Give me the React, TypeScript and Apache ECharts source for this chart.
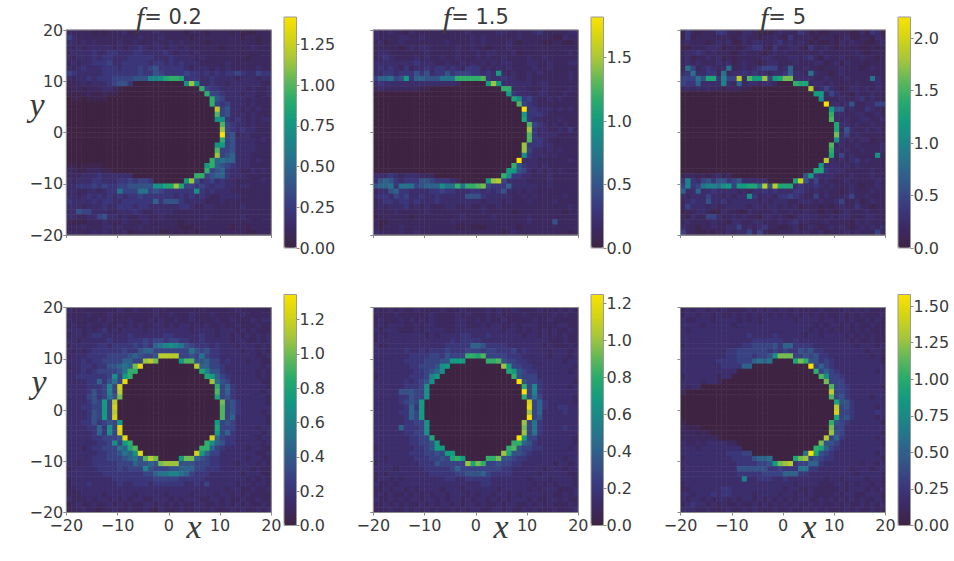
import React, { useEffect, useRef } from "react";
import * as echarts from "echarts";

// Each row is one row of the 40 x 40 density map, top row first; each character is a base-36 step on levelFractions.
const panelTopA = [
"3222212122 2312222322 2221222122 2212111222",
"5322222222 2222322232 2222122222 2222122122",
"3323232222 3223222322 3232222122 2222222122",
"3232333332 3233432332 3323222222 1222223222",
"2333343344 3334433334 3233232222 2222222222",
"3233343443 3344444333 4333323222 2222212222",
"2323344453 3444443443 4343332222 2322222222",
"3234333444 3444545644 4443233323 2322222322",
"5433333444 4444544654 4445443434 3445433544",
"3233434445 55566699ac ddc4443343 3332333233",
"2223233345 6640000000 000aga3343 3233333322",
"1221222332 1000000000 000000d544 3333323223",
"1111211211 0000000000 0000000d55 4333233223",
"0110111100 0000000000 00000000d6 5333323222",
"0000000000 0000000000 00000000d5 4533323222",
"0000000000 0000000000 000000000h 5633232322",
"0000000000 0000000000 000000000e 5633323222",
"0000000000 0000000000 000000000a a434323233",
"0000000000 0000000000 0000000000 e543323222",
"0000000000 0000000000 0000000000 g543433222",
"0000000000 0000000000 0000000000 k562332222",
"0000000000 0000000000 0000000000 d563333232",
"0000000000 0000000000 000000000a b563333222",
"0000000000 0000000000 000000000e 5563333222",
"0000000000 0000000000 000000000g 5673332222",
"0000000000 0000000000 00000000d7 8773332322",
"1101111000 0000000000 0000000bd7 6543332222",
"2211222110 0000000000 0000000d56 7433223232",
"2223334333 3330000000 00000dd567 7433322222",
"3233344333 4454554000 000bg63453 4332222232",
"3344454544 5566666aac cgc5545434 4332332222",
"3322332344 8555885654 44444a4343 3322222222",
"3323434343 4344544444 4343434322 3333222222",
"4333343443 3444444746 6643333222 3222222222",
"3332333433 4443443333 3344322332 2222322222",
"3365533322 3334322333 3222222222 2222222222",
"3322335633 2322332232 2222222322 2222322222",
"2111222322 2322232222 2212222222 2222222222",
"2223222332 3222322222 2211122222 2212212222",
"2222232322 2312222211 2121212222 2222211222",
];
const panelTopB = [
"3223221322 2222222232 2222332232 2342222233",
"3222233223 2222222223 2322222232 2222211322",
"2312232222 2222322223 2322223212 2221122112",
"2222212323 3222223223 2212223222 2222222222",
"2332222222 3222223222 3233222312 2222222232",
"2343222232 3223223222 3232232222 3223222222",
"3333333343 3322322323 2323233222 3322322233",
"3434324233 4344343244 4232323222 2322322222",
"3344344464 6344645554 4343b32322 3232222232",
"577856b477 666888dddd de43343322 3222222232",
"3433333333 3333332000 00bgb33333 3233222222",
"2322222221 1000000000 00000dd333 2223222232",
"0000000000 0000000000 000000b433 3233222322",
"0000000000 0000000000 0000000ca4 5322323222",
"0000000000 0000000000 00000000e5 4322222222",
"0000000000 0000000000 000000000k 4433323232",
"0000000000 0000000000 000000000b 4443222222",
"0000000000 0000000000 000000000c 4332223222",
"0000000000 0000000000 0000000000 e543232322",
"0000000000 0000000000 0000000000 g433223242",
"0000000000 0000000000 0000000000 e433332222",
"0000000000 0000000000 0000000000 e443222222",
"0000000000 0000000000 000000000g 4443322222",
"0000000000 0000000000 000000000g 5332323222",
"0000000000 0000000000 000000000a 4333232222",
"0000000000 0000000000 00000000k3 3322222232",
"0000000000 0000000000 0000000d64 3323222222",
"0000000000 0000000000 000000bb65 3232323222",
"3334323332 2200000000 00000da443 3222322222",
"3676434446 6544432000 00bgh53333 2222322222",
"6778488856 777a88d8dd ef54447333 3322322222",
"2336744333 3445443334 4343463232 3222222222",
"3443545334 3343333366 6433333223 2322222322",
"2344344343 3343333333 3233323222 3222232222",
"2323334232 3222332232 2322322222 2222222232",
"2222322222 3222222222 2322222122 2222222122",
"1222222122 2222222322 2223222222 3222222222",
"2112222222 2222232222 2222222222 3222262222",
"2122232222 2222221121 1122222212 2222222222",
"3222232232 2222222222 2222212322 2222222212",
];
const panelTopC = [
"1421222442 2133211123 2224312112 2221131431",
"1412222222 1232212232 1422221222 1231122132",
"2322212323 1132332234 2323212112 1323221123",
"1122233312 2123442142 2332142232 1222211212",
"2334323222 1232221232 3222222322 2222321222",
"2312232312 1222223322 2332342132 2322232212",
"2323222323 1232212332 2232223312 3132221222",
"2852343238 2232345552 3722322122 2322212322",
"3483344282 3343433233 4733283221 2322222222",
"55586cc495 5h3ebbg5bc ff33332232 2232222832",
"5447333393 2723323320 00dcc23323 2222322232",
"2323232212 2211000000 00000h2353 2123323232",
"0000000000 0000000000 000000bb25 3221322322",
"0000000000 0000000000 0000000a22 2322342322",
"0000000000 0000000000 00000000k3 3236223355",
"0000000000 0000000000 000000000b 6623224322",
"0000000000 0000000000 000000000d 3322332232",
"0000000000 0000000000 000000000e 3232233223",
"0000000000 0000000000 0000000000 c332322322",
"0000000000 0000000000 0000000000 c263223232",
"0000000000 0000000000 0000000000 f352322222",
"0000000000 0000000000 0000000000 a323233122",
"0000000000 0000000000 000000000e 2322322223",
"0000000000 0000000000 000000000d 3232232223",
"0000000000 0000000000 000000000c 25232222a2",
"0000000000 0000000000 00000000h3 2323423222",
"0000000000 0000000000 0000000b33 3232322222",
"0000000000 0000000000 000000cc43 3322222322",
"1221212312 0000000000 00006b4333 2223222322",
"4943564664 5633333000 00ci635232 2232222232",
"59458998ab 5bbcc8h6hc cc34334323 2223212232",
"7337334333 3232334343 3344323232 2123222322",
"3233353323 233a423324 4543225232 2235223222",
"2343363342 3333323233 3223332322 3522312322",
"2533323223 3332332332 3231222121 2322422122",
"1223321132 2113222232 2322322122 1232223222",
"2132255322 3232213323 2123333223 2332223322",
"2322223221 3322332223 2342322232 2221323222",
"3221223223 3523234221 1231232123 2321232323",
"5221121223 2335252112 2232322312 2232322252",
];
const panelBottomA = [
"3222222222 3223222322 2222222222 2223222222",
"2222322232 2222222322 3222322232 2222322222",
"3222223232 2232223232 2322322223 2232223233",
"2322322322 3232322332 3233232322 3223222322",
"3332323423 2333323333 3333233332 3332323222",
"2332344333 3343333334 4333334332 3323232323",
"3323333343 3344454554 5544334333 3323322323",
"2333334434 4445454789 a986544434 3332333232",
"3232344444 4544677555 5555865644 3333233232",
"2333444455 55676556hh hh55658544 3333333223",
"3334344555 57755ghf00 00bee66755 3433323322",
"2334434466 787fj00000 00000h7755 4333333323",
"3334345555 68dd000000 000000c966 4333333232",
"334444445a 5bd0000000 0000000cb7 5433333232",
"3333447468 5j00000000 00000000g8 6533333322",
"3333444595 i000000000 000000000d 5743333332",
"3333464595 h000000000 000000000e 5743333323",
"3333564586 f000000000 000000000c 5643333332",
"3333465b5h 0000000000 0000000000 f564333332",
"3334455b5i 0000000000 0000000000 e564333333",
"3333465b5h 0000000000 0000000000 e564333323",
"3333465b5i 0000000000 0000000000 e573333332",
"3334464565 b000000000 000000000b 5653333332",
"33334474a5 j000000000 000000000c 5553333233",
"33333474a5 i000000000 000000000b 5743333323",
"3333344555 6j00000000 00000000i7 5443333233",
"333333445a 5bd0000000 0000000da7 6443333323",
"3332344555 87ce000000 000000dd75 4333323322",
"3333334455 687aj00000 00000ib755 3333333223",
"3333344455 56786ehf00 00bff76544 3333323322",
"3323344444 55576676fg gg66655544 3332333232",
"2333334444 5455596555 6677755444 3333332322",
"3333333444 4444455788 9987544433 3333233322",
"2333333334 4444444555 5544444333 3333323232",
"2333433333 4334443444 4443343533 3332332332",
"2233333333 3333333333 3333333333 3233223223",
"2223333233 3332333332 3333233332 3323232222",
"3222323323 2323322333 2323332233 2322322322",
"1232232232 3232233232 3232233223 2323232232",
"1223221223 2232232132 2232232232 2232322323",
];
const panelBottomB = [
"3223232232 2223222322 2232322322 2232223232",
"2222322222 2322223232 2232322223 2222232322",
"2322232323 2322223322 3232232222 2322322222",
"2323332232 3322223322 2323322323 3322223322",
"3233322232 3333223333 3333323323 2323232232",
"2323333333 2323333443 3343333332 3323232322",
"2333333333 3333343444 4333333333 3333222322",
"3223333333 3333444447 7644443333 3332322232",
"3333334334 3444544455 5455444534 3333233323",
"3333333444 45546555dd ce55554443 3333233323",
"3333334444 55566bbb00 00dde65544 3333333233",
"3333333445 556ab00000 00000gb554 4333333332",
"3333333344 567a000000 000000cb65 4433333323",
"2333333444 59b0000000 0000000d65 5533333333",
"3333334345 6a00000000 00000000k6 5543333332",
"3333334445 a000000000 000000000d 5943333323",
"3333366655 a000000000 000000000k 5943333333",
"3333344655 a000000000 000000000d 5853333332",
"333334565b 0000000000 0000000000 i574333332",
"333333474b 0000000000 0000000000 j574334433",
"333334475b 0000000000 0000000000 g573333433",
"333333475b 0000000000 0000000000 k563333333",
"3333334455 a000000000 000000000g 5843333333",
"3333374445 a000000000 000000000f 5843333433",
"3333334455 a000000000 000000000g 5843333333",
"3333333445 5c00000000 00000000kb 5533333332",
"3333333445 56b0000000 0000000dd7 6433333332",
"2333333344 56bb000000 000000de65 5443333323",
"3333333444 5565bb0000 00000gc665 4333333333",
"3323333344 45565cdb00 00ddf66544 3333333233",
"2333333334 44655555gc fd55655443 3333323323",
"3333233333 4444457555 5555544333 3332333233",
"2323333333 3444445566 6754444333 3323333322",
"2332323333 3333443344 4443333333 2333233332",
"3223233333 3333333333 3443333333 3232323332",
"2232332323 3332333233 3333233333 2323332223",
"2323223232 3233233323 2332332323 3332322323",
"3223232332 3323233232 3323232333 2322332322",
"2232323223 2323323233 2322323322 3232322232",
"2223223232 3232232323 3223323223 2322232223",
];
const panelBottomC = [
"2323323232 2223232323 3232222322 2232323222",
"2332332322 3232323232 3232323232 2323232223",
"3223332333 3232323333 3323333233 2323223232",
"3333233333 2333333333 3333332323 3232322322",
"3233333333 3333333333 3333323232 3232323222",
"3333333333 3334333343 3333233233 3323232322",
"3333333333 3333444444 3343333333 3332322322",
"2333333333 3344555564 7744443333 3333233323",
"3333333334 4555555454 5446564433 3333332332",
"3333333334 45554556af ff55656443 3333333232",
"3333333444 4555787800 00cfd66454 3333333332",
"3333333344 4477000000 00000k5754 3333333333",
"3333333333 3000000000 000000d575 4333333323",
"2333333233 0000000000 0000000ea5 5433333333",
"3333233200 0000000000 00000000f5 5533333333",
"3233000000 0000000000 000000000e 5543333332",
"2000000000 0000000000 000000000h 5543333333",
"0000000000 0000000000 000000000e 5643333233",
"0000000000 0000000000 0000000000 c664333333",
"0000000000 0000000000 0000000000 h564333323",
"0000000000 0000000000 0000000000 i554333343",
"0000000000 0000000000 0000000000 c564333323",
"1000000000 0000000000 000000000d 6543333332",
"2111000000 0000000000 000000000f 5533333333",
"2221210000 0000000000 000000000g 6533333332",
"2222222100 0000000000 00000000h5 7433333323",
"3223233332 2000000000 0000000f66 5333333332",
"3332333333 3300000000 000000dc75 4333333333",
"3333333334 4455000000 00008kc654 3333333323",
"2333333333 4444677800 00cfg56544 3333333332",
"3333333333 34444556bf gh45577433 3333323323",
"2333333333 3666666445 4448844333 3332333233",
"3333333333 3444445555 7774433333 3333233332",
"3333333333 3393344433 4333333323 3233332332",
"2333333333 3333333333 3323333222 3323233232",
"2233333344 3333333333 2332232222 2323332323",
"3323334344 3333233332 3323232222 3233223332",
"3233232332 3233232323 2323322323 2323232232",
"2343323232 2322323232 3232232322 3232232323",
"3332232223 2232322232 2322323232 2232322322",
];

const panelGrids = [panelTopA, panelTopB, panelTopC, panelBottomA, panelBottomB, panelBottomC];
const panelMax = [1.42, 1.82, 2.2, 1.345, 1.25, 1.58];
const levelFractions = [
  0, 0.035, 0.07, 0.11, 0.16, 0.21, 0.265, 0.325, 0.385, 0.45, 0.5,
  0.55, 0.6, 0.65, 0.7, 0.75, 0.8, 0.85, 0.9, 0.95, 1,
];
const colorbarStep = [0.25, 0.5, 0.5, 0.2, 0.2, 0.25];
const colorbarDecimals = [2, 1, 1, 1, 1, 2];
const topTitles = ["0.2", "1.5", "5"];
const axisTicks = { min: -20, max: 20, step: 10 };

const plotColors = [
  "#3e2442", "#3c2a66", "#3b3a80", "#345488", "#2a6c8c", "#1d8489",
  "#129a80", "#27ab6c", "#62b858", "#a8c63a", "#d4d414", "#f9e200",
];

const tickColor = "#8a8a8a";
const textColor = "#3a3a3a";
const sans = "DejaVu Sans";
const cellIndex = Array.from({ length: 40 }, (_, i) => String(i));

const plotLeft = [66.3, 373.3, 680.5];
const plotWidth = 205;
const plotTop = [30, 307.5];
const barLeft = [284, 591, 898];
const barTop = [17, 294.5];
const barHeight = 231;
const barWidth = 12.5;

function minusFmt(v: number) {
  return String(v).replace("-", "\u2212");
}

function buildOption() {
  const grid: any[] = [];
  const xAxis: any[] = [];
  const yAxis: any[] = [];
  const series: any[] = [];
  const visualMap: any[] = [];
  const title: any[] = [];
  const graphic: any[] = [];

  panelGrids.forEach((rows, p) => {
    const col = p % 3;
    const row = Math.floor(p / 3);
    const max = panelMax[p];
    const g = grid.length;
    grid.push({
      left: plotLeft[col], top: plotTop[row], width: plotWidth, height: plotWidth,
      show: true, borderColor: tickColor, borderWidth: 1, backgroundColor: "transparent", z: 3,
    });
    const catX = xAxis.length;
    xAxis.push({ type: "category", gridIndex: g, data: cellIndex, show: false });
    xAxis.push({
      type: "value", gridIndex: g, position: "bottom", min: axisTicks.min, max: axisTicks.max,
      interval: axisTicks.step, z: 5,
      axisLine: { show: true, onZero: false, lineStyle: { color: tickColor, width: 1 } },
      axisTick: { show: true, length: 3, lineStyle: { color: tickColor, width: 1 } },
      splitLine: { show: false },
      axisLabel: {
        show: row === 1, formatter: minusFmt, color: textColor, fontFamily: sans, fontSize: 16,
        margin: 5, showMinLabel: true, showMaxLabel: true, hideOverlap: false,
      },
    });
    const catY = yAxis.length;
    yAxis.push({ type: "category", gridIndex: g, data: cellIndex, inverse: true, show: false });
    yAxis.push({
      type: "value", gridIndex: g, position: "left", min: axisTicks.min, max: axisTicks.max,
      interval: axisTicks.step, z: 5,
      axisLine: { show: true, onZero: false, lineStyle: { color: tickColor, width: 1 } },
      axisTick: { show: true, length: 3, lineStyle: { color: tickColor, width: 1 } },
      splitLine: { show: false },
      axisLabel: {
        show: col === 0, formatter: minusFmt, color: textColor, fontFamily: sans, fontSize: 16,
        margin: 3, showMinLabel: true, showMaxLabel: true, hideOverlap: false,
      },
    });
    const data: number[][] = [];
    rows.forEach((r, ri) => {
      const clean = r.replace(/ /g, "").padEnd(40, "2").slice(0, 40);
      for (let ci = 0; ci < 40; ci++) {
        data.push([ci, ri, levelFractions[parseInt(clean[ci], 36)] * max]);
      }
    });
    const s = series.length;
    series.push({
      type: "heatmap", xAxisIndex: catX, yAxisIndex: catY, data, silent: true,
      progressive: 0, itemStyle: { borderWidth: 0 }, emphasis: { disabled: true },
    });
    visualMap.push({
      type: "continuous", seriesIndex: s, min: 0, max, dimension: 2, show: true,
      calculable: false, hoverLink: false, realtime: false, padding: 0,
      left: barLeft[col], top: barTop[row], itemWidth: barWidth, itemHeight: barHeight,
      inRange: { color: plotColors }, borderWidth: 0, z: 2,
    });

    // colour bar axis
    const cg = grid.length;
    grid.push({
      left: barLeft[col], top: barTop[row], width: barWidth, height: barHeight,
      show: true, borderColor: "#9a9a9a", borderWidth: 1, backgroundColor: "transparent", z: 10,
    });
    xAxis.push({ type: "category", gridIndex: cg, data: ["c"], show: false });
    const dec = colorbarDecimals[p];
    yAxis.push({
      type: "value", gridIndex: cg, position: "right", min: 0, max, interval: colorbarStep[p], z: 10,
      axisLine: { show: false, onZero: false },
      axisTick: { show: true, length: 3, lineStyle: { color: tickColor, width: 1 } },
      splitLine: { show: false },
      axisLabel: {
        show: true, color: textColor, fontFamily: sans, fontSize: 16, margin: 3,
        showMinLabel: true, showMaxLabel: false, hideOverlap: false,
        formatter: (v: number) => v.toFixed(dec),
      },
    });
  });

  topTitles.forEach((t, i) => {
    title.push({
      text: `{i|f}{n|= ${t}}`,
      left: plotLeft[i] + plotWidth / 2, top: 2, textAlign: "center", padding: 0,
      textStyle: {
        fontWeight: "normal",
        rich: {
          i: { fontFamily: "Liberation Serif", fontStyle: "italic", fontWeight: "normal", fontSize: 30, color: textColor },
          n: { fontFamily: sans, fontWeight: "normal", fontSize: 21, color: textColor },
        },
      },
    });
  });

  const mathText = (text: string, x: number, y: number) => ({
    type: "text", x, y, silent: true,
    style: {
      text, fill: textColor, font: "italic 34px 'Liberation Serif'",
      align: "center", verticalAlign: "middle",
    },
  });
  graphic.push(mathText("y", 37, 104), mathText("y", 39, 381));
  graphic.push(mathText("x", 194, 526), mathText("x", 501, 526), mathText("x", 809, 526));

  return { animation: false, backgroundColor: "#ffffff", grid, xAxis, yAxis, series, visualMap, title, graphic };
}

export default function App() {
  const ref = useRef<HTMLDivElement>(null);
  useEffect(() => {
    const chart = echarts.init(ref.current!, undefined, { renderer: "svg" });
    chart.setOption(buildOption() as any);
    return () => chart.dispose();
  }, []);
  return <div ref={ref} style={{ position: "fixed", left: 0, top: 0, width: 954, height: 561 }} />;
}
